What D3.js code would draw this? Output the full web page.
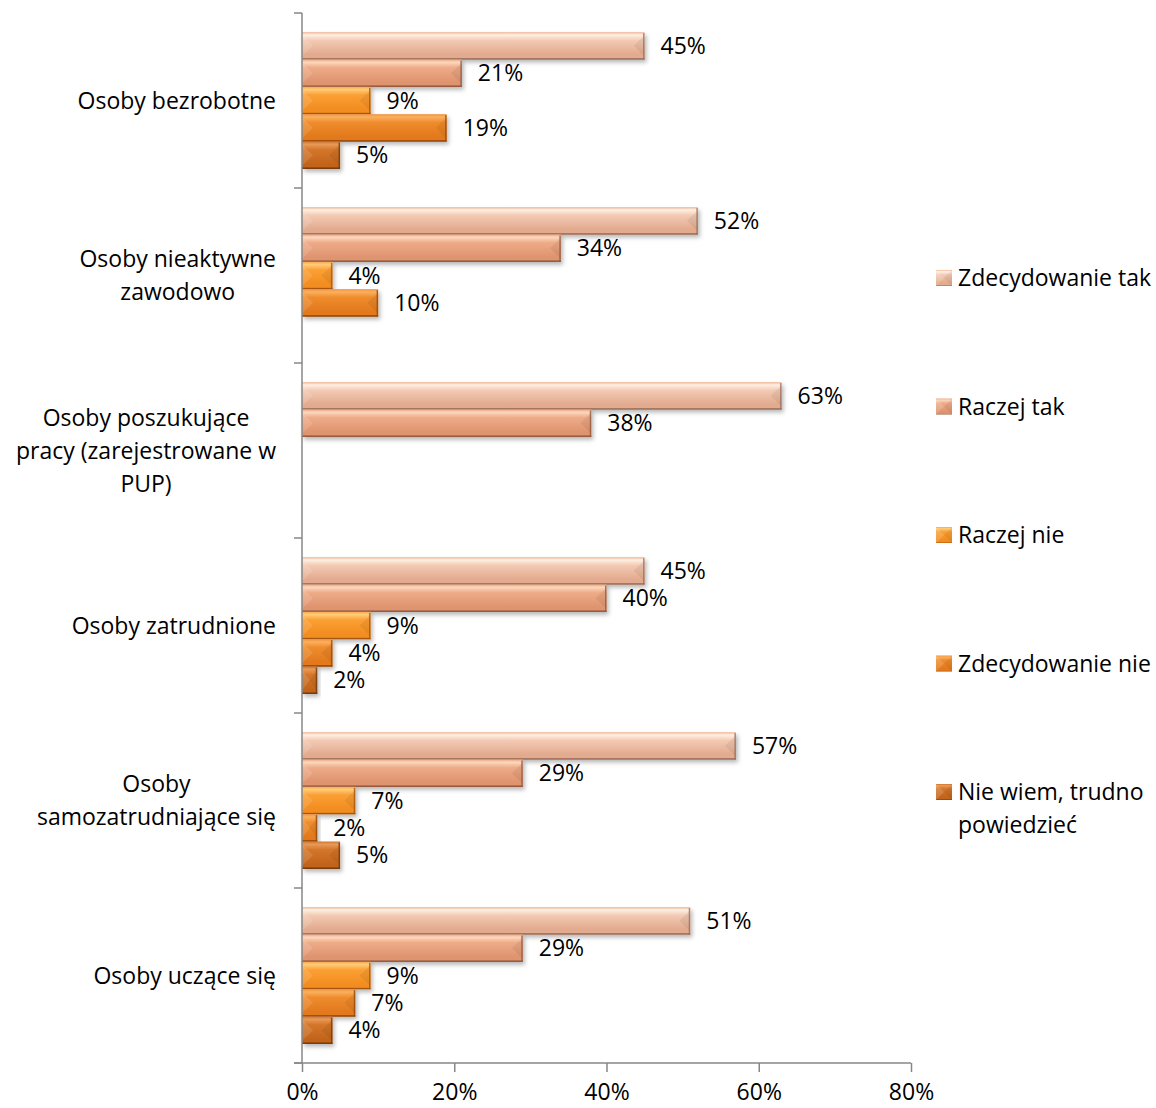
<!DOCTYPE html>
<html>
<head>
<meta charset="utf-8">
<script src="https://cdn.jsdelivr.net/npm/d3@7"></script>
<style>
  body { margin: 0; background: #fff; }
  text { font-family: "Open Sans", sans-serif; font-size: 23px; fill: #000; }
</style>
</head>
<body>
<main></main>
<script>
var width = 1156;
var height = 1108;

// categories, top to bottom
var categories = [
    "Osoby bezrobotne",
    "Osoby nieaktywne zawodowo",
    "Osoby poszukujące pracy (zarejestrowane w PUP)",
    "Osoby zatrudnione",
    "Osoby samozatrudniające się",
    "Osoby uczące się"
];
var categoryLines = [
    ["Osoby bezrobotne"],
    ["Osoby nieaktywne", "zawodowo"],
    ["Osoby poszukujące", "pracy (zarejestrowane w", "PUP)"],
    ["Osoby zatrudnione"],
    ["Osoby", "samozatrudniające się"],
    ["Osoby uczące się"]
];

var seriesNames = ["Zdecydowanie tak", "Raczej tak", "Raczej nie", "Zdecydowanie nie", "Nie wiem, trudno powiedzieć"];
var legendLines = [["Zdecydowanie tak"], ["Raczej tak"], ["Raczej nie"], ["Zdecydowanie nie"], ["Nie wiem, trudno", "powiedzieć"]];

// percentages per series, same order as categories (null = no bar)
var zdecydowanieTak = [45, 52, 63, 45, 57, 51];
var raczejTak       = [21, 34, 38, 40, 29, 29];
var raczejNie       = [9, 4, null, 9, 7, 9];
var zdecydowanieNie = [19, 10, null, 4, 2, 7];
var nieWiem         = [5, null, null, 2, 5, 4];

var xTicks = [0, 20, 40, 60, 80];

var seriesValues = [zdecydowanieTak, raczejTak, raczejNie, zdecydowanieNie, nieWiem];

// gradient stops per series: [edge, highlight, light, base, dark]
var seriesColors = [
    ["#efb493", "#fff0e4", "#f3cab3", "#e2aa8e", "#9c6e5a"],
    ["#eea680", "#fcd8be", "#eeab88", "#df946f", "#94583e"],
    ["#f8a850", "#ffcc78", "#fb9f34", "#f28d20", "#a8560e"],
    ["#ee9240", "#fbb05e", "#ef8c2e", "#e2791c", "#94480c"],
    ["#cf7430", "#e99a58", "#d4762a", "#c2641c", "#743a0e"]
];

var svg = d3.select("main").append("svg")
    .attr("width", width)
    .attr("height", height);

var defs = svg.append("defs");

seriesColors.forEach(function(c, i) {
    var g = defs.append("linearGradient")
        .attr("id", "grad" + i)
        .attr("x1", 0).attr("y1", 0).attr("x2", 0).attr("y2", 1);
    [[0, c[0]], [0.1, c[1]], [0.3, c[2]], [0.82, c[3]], [0.93, c[3]], [1, c[4]]].forEach(function(s) {
        g.append("stop").attr("offset", s[0]).attr("stop-color", s[1]);
    });
});

var shadow = defs.append("filter")
    .attr("id", "shadow")
    .attr("x", "-10%").attr("y", "-30%")
    .attr("width", "130%").attr("height", "180%");
shadow.append("feDropShadow")
    .attr("dx", 2).attr("dy", 3)
    .attr("stdDeviation", 2)
    .attr("flood-color", "#000")
    .attr("flood-opacity", 0.28);

var x = d3.scaleLinear()
    .domain([0, 80])
    .range([302, 911]);

var y = d3.scaleBand()
    .domain(categories)
    .range([13, 1063])
    .padding(0);

var ySeries = d3.scaleBand()
    .domain(d3.range(seriesNames.length))
    .range([0, y.bandwidth()])
    .paddingInner(0)
    .paddingOuter(0.7);

// bars
var rows = [];
seriesValues.forEach(function(vals, s) {
    vals.forEach(function(v, c) {
        if (v != null) rows.push({ series: s, category: categories[c], value: v });
    });
});

var bars = svg.append("g").attr("class", "bars");

var bar = bars.selectAll("g.bar")
    .data(rows)
  .enter().append("g")
    .attr("class", "bar")
    .attr("transform", function(d) {
        return "translate(0," + (y(d.category) + ySeries(d.series)) + ")";
    });

var bh = ySeries.bandwidth();

bar.append("rect")
    .attr("x", x(0))
    .attr("y", 0)
    .attr("width", function(d) { return x(d.value) - x(0); })
    .attr("height", bh)
    .attr("fill", function(d) { return "url(#grad" + d.series + ")"; })
    .attr("filter", "url(#shadow)");

// bevel on the left end
bar.append("path")
    .attr("d", function(d) {
        var w = Math.min(bh * 0.4, (x(d.value) - x(0)) / 2);
        return "M" + x(0) + ",3L" + (x(0) + w) + "," + (bh / 2) + "L" + x(0) + "," + (bh - 3) + "Z";
    })
    .attr("fill", "#fff")
    .attr("fill-opacity", 0.12);

// bevel on the right end
bar.append("path")
    .attr("d", function(d) {
        var w = Math.min(bh * 0.4, (x(d.value) - x(0)) / 2);
        var r = x(d.value);
        return "M" + r + ",3L" + (r - w) + "," + (bh / 2) + "L" + r + "," + (bh - 3) + "Z";
    })
    .attr("fill", "#000")
    .attr("fill-opacity", 0.06);

// darker right edge and bottom line
bar.append("rect")
    .attr("x", function(d) { return x(d.value) - 1.5; })
    .attr("y", 1)
    .attr("width", 1.5)
    .attr("height", bh - 1)
    .attr("fill", function(d) { return seriesColors[d.series][4]; })
    .attr("fill-opacity", 0.8);

bar.append("rect")
    .attr("x", x(0))
    .attr("y", bh - 1.2)
    .attr("width", function(d) { return x(d.value) - x(0); })
    .attr("height", 1.2)
    .attr("fill", function(d) { return seriesColors[d.series][4]; });

bar.append("text")
    .attr("x", function(d) { return x(d.value) + 16; })
    .attr("y", bh / 2)
    .attr("dy", "0.36em")
    .text(function(d) { return d.value + "%"; });

// axes
var axisColor = "#878787";

var yTicks = categories.map(function(c) { return y(c); }).concat([y.range()[1]]);

svg.append("line")
    .attr("x1", x(0)).attr("x2", x(0))
    .attr("y1", y.range()[0]).attr("y2", y.range()[1])
    .attr("stroke", axisColor).attr("stroke-width", 1.5);

svg.selectAll("line.ytick")
    .data(yTicks)
  .enter().append("line")
    .attr("class", "ytick")
    .attr("x1", x(0) - 8).attr("x2", x(0))
    .attr("y1", function(d) { return d; })
    .attr("y2", function(d) { return d; })
    .attr("stroke", axisColor).attr("stroke-width", 1.5);

var xAxis = svg.append("g")
    .attr("transform", "translate(0," + y.range()[1] + ")")
    .call(d3.axisBottom(x)
        .tickValues(xTicks)
        .tickSize(9)
        .tickPadding(12)
        .tickFormat(function(d) { return d + "%"; }));

xAxis.select(".domain").remove();
xAxis.selectAll(".tick line").attr("stroke", axisColor).attr("stroke-width", 1.5);
xAxis.selectAll(".tick text")
    .style("font-family", "Open Sans, sans-serif")
    .style("font-size", "23px")
    .attr("fill", "#000");

svg.append("line")
    .attr("x1", x(0) - 8).attr("x2", x(80))
    .attr("y1", y.range()[1]).attr("y2", y.range()[1])
    .attr("stroke", axisColor).attr("stroke-width", 1.5);

// category labels: centred block, right edge at 276
var lineH = 33;
var labels = svg.append("g").attr("class", "cat-labels");

categories.forEach(function(c, i) {
    var lines = categoryLines[i];
    var cy = y(c) + y.bandwidth() / 2;
    var g = labels.append("g");
    var texts = g.selectAll("text")
        .data(lines)
      .enter().append("text")
        .attr("y", function(d, k) { return cy + (k - (lines.length - 1) / 2) * lineH; })
        .attr("dy", "0.36em")
        .attr("text-anchor", "middle")
        .text(function(d) { return d; });
    var maxW = d3.max(texts.nodes(), function(n) { return n.getComputedTextLength(); });
    texts.attr("x", 276 - maxW / 2);
});

// legend
var legend = svg.append("g").attr("class", "legend");

var legendY = d3.scalePoint()
    .domain(d3.range(seriesNames.length))
    .range([278, 792]);

var item = legend.selectAll("g.item")
    .data(seriesNames)
  .enter().append("g")
    .attr("class", "item")
    .attr("transform", function(d, i) { return "translate(936," + legendY(i) + ")"; });

item.append("rect")
    .attr("x", 0).attr("y", -8)
    .attr("width", 16).attr("height", 16)
    .attr("fill", function(d, i) { return "url(#grad" + i + ")"; });

item.append("path")
    .attr("d", "M0,-8L8,0L0,8Z")
    .attr("fill", "#fff")
    .attr("fill-opacity", 0.15);

item.append("path")
    .attr("d", "M16,-8L8,0L16,8Z")
    .attr("fill", "#000")
    .attr("fill-opacity", 0.06);

item.each(function(d, i) {
    d3.select(this).selectAll("text")
        .data(legendLines[i])
      .enter().append("text")
        .attr("x", 22)
        .attr("y", function(t, k) { return k * lineH; })
        .attr("dy", "0.36em")
        .text(function(t) { return t; });
});
</script>
</body>
</html>
